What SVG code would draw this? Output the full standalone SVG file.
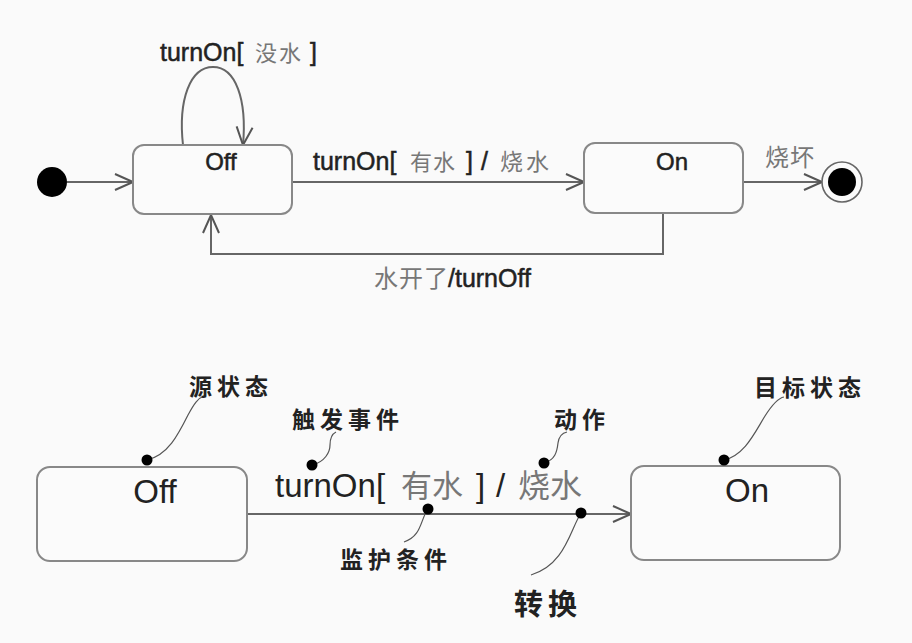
<svg xmlns="http://www.w3.org/2000/svg" width="912" height="643" viewBox="0 0 912 643">
<defs>
<marker id="open" markerUnits="userSpaceOnUse" markerWidth="22" markerHeight="20" viewBox="0 0 22 20" refX="20" refY="10" orient="auto">
<path d="M2,2 L20,10 L2,18" fill="none" stroke="#555" stroke-width="2"/>
</marker>
</defs>
<style>
.state{fill:#fbfbfb;stroke:#888;stroke-width:2}
.edge{fill:none;stroke:#666;stroke-width:2}
.lead{fill:none;stroke:#555;stroke-width:1.2}
.dot{fill:#000}
.t{font-family:"Liberation Sans","Noto Sans CJK SC",sans-serif;fill:#222}
.b{stroke:#222;stroke-width:0.5}
.g{fill:#777;stroke:none}
.ann{font-family:"Noto Sans CJK SC",sans-serif;font-weight:bold;fill:#222;letter-spacing:5px}
</style>
<rect width="912" height="643" fill="#fafafa"/>

<g id="connectors">
<line class="edge" x1="67" y1="182" x2="133" y2="182" marker-end="url(#open)"/>
<path class="edge" d="M183,145 C178,100 190,67 213,67 C236,67 247,100 243,145" marker-end="url(#open)"/>
<line class="edge" x1="292" y1="182" x2="584" y2="182" marker-end="url(#open)"/>
<line class="edge" x1="743" y1="182" x2="822" y2="182" marker-end="url(#open)"/>
<path class="edge" d="M663,213 L663,254 L211,254 L211,215" marker-end="url(#open)"/>
<line class="edge" x1="247" y1="514" x2="631" y2="514" marker-end="url(#open)"/>
</g>

<g id="initial"><circle class="dot" cx="52" cy="182" r="15"/></g>

<g id="off-top">
<rect class="state" x="133" y="145" width="159" height="69" rx="11"/>
<text class="t b" x="221" y="170" font-size="24" text-anchor="middle">Off</text>
</g>

<g id="on-top">
<rect class="state" x="584" y="143" width="159" height="70" rx="11"/>
<text class="t b" x="672" y="170" font-size="24" text-anchor="middle">On</text>
</g>

<g id="final">
<circle cx="842" cy="182" r="20" fill="#fafafa" stroke="#666" stroke-width="1.6"/>
<circle class="dot" cx="842" cy="182" r="14"/>
</g>

<g id="labels-top">
<text class="t b" x="160" y="61" font-size="25">turnOn[<tspan class="g" x="255" font-size="22" letter-spacing="2">没水</tspan><tspan x="310">]</tspan></text>
<text class="t b" x="313" y="170" font-size="25">turnOn[<tspan class="g" x="410" font-size="22" letter-spacing="1">有水</tspan><tspan x="466">]</tspan><tspan x="481">/</tspan><tspan class="g" x="500" font-size="23" letter-spacing="3">烧水</tspan></text>
<text class="t g" x="765" y="166" font-size="24" letter-spacing="1">烧坏</text>
<text class="t b" x="374" y="287" font-size="25"><tspan class="g" font-size="24" letter-spacing="1">水开了</tspan><tspan x="448">/turnOff</tspan></text>
</g>

<g id="off-bottom">
<rect class="state" x="37" y="467" width="210" height="94" rx="13"/>
<text class="t" x="155" y="503" font-size="33" text-anchor="middle">Off</text>
</g>

<g id="on-bottom">
<rect class="state" x="631" y="466" width="209" height="94" rx="13"/>
<text class="t" x="747" y="502" font-size="33" text-anchor="middle">On</text>
</g>

<g id="label-bottom">
<text class="t" x="275" y="497" font-size="33">turnOn[<tspan class="g" x="401" font-size="31">有水</tspan><tspan x="476">]</tspan><tspan x="496">/</tspan><tspan class="g" x="518" font-size="32">烧水</tspan></text>
</g>

<g id="annotations">
<path class="lead" d="M147,460 C168,455 178,435 188,415 C194,404 198,398 204,396"/>
<circle class="dot" cx="147" cy="460" r="5.5"/>
<text class="ann" x="189" y="395" font-size="23">源状态</text>

<path class="lead" d="M312,465 C325,462 330,452 330,445 C330,438 332,434 336,432"/>
<circle class="dot" cx="312" cy="465" r="5.5"/>
<text class="ann" x="292" y="428" font-size="23">触发事件</text>

<path class="lead" d="M428,509 C420,520 422,536 404,542"/>
<circle class="dot" cx="428" cy="509" r="5.5"/>
<text class="ann" x="340" y="568" font-size="23">监护条件</text>

<path class="lead" d="M544,463 C555,460 557,452 558,443 C559,436 562,433 567,432"/>
<circle class="dot" cx="544" cy="463" r="5.5"/>
<text class="ann" x="554" y="428" font-size="23">动作</text>

<path class="lead" d="M581,513 C570,530 565,565 531,575"/>
<circle class="dot" cx="581" cy="513" r="5.5"/>
<text class="ann" x="514" y="615" font-size="29">转换</text>

<path class="lead" d="M724,460 C745,455 755,432 765,416 C772,405 778,398 784,397"/>
<circle class="dot" cx="724" cy="460" r="5.5"/>
<text class="ann" x="754" y="396" font-size="23">目标状态</text>
</g>
</svg>
